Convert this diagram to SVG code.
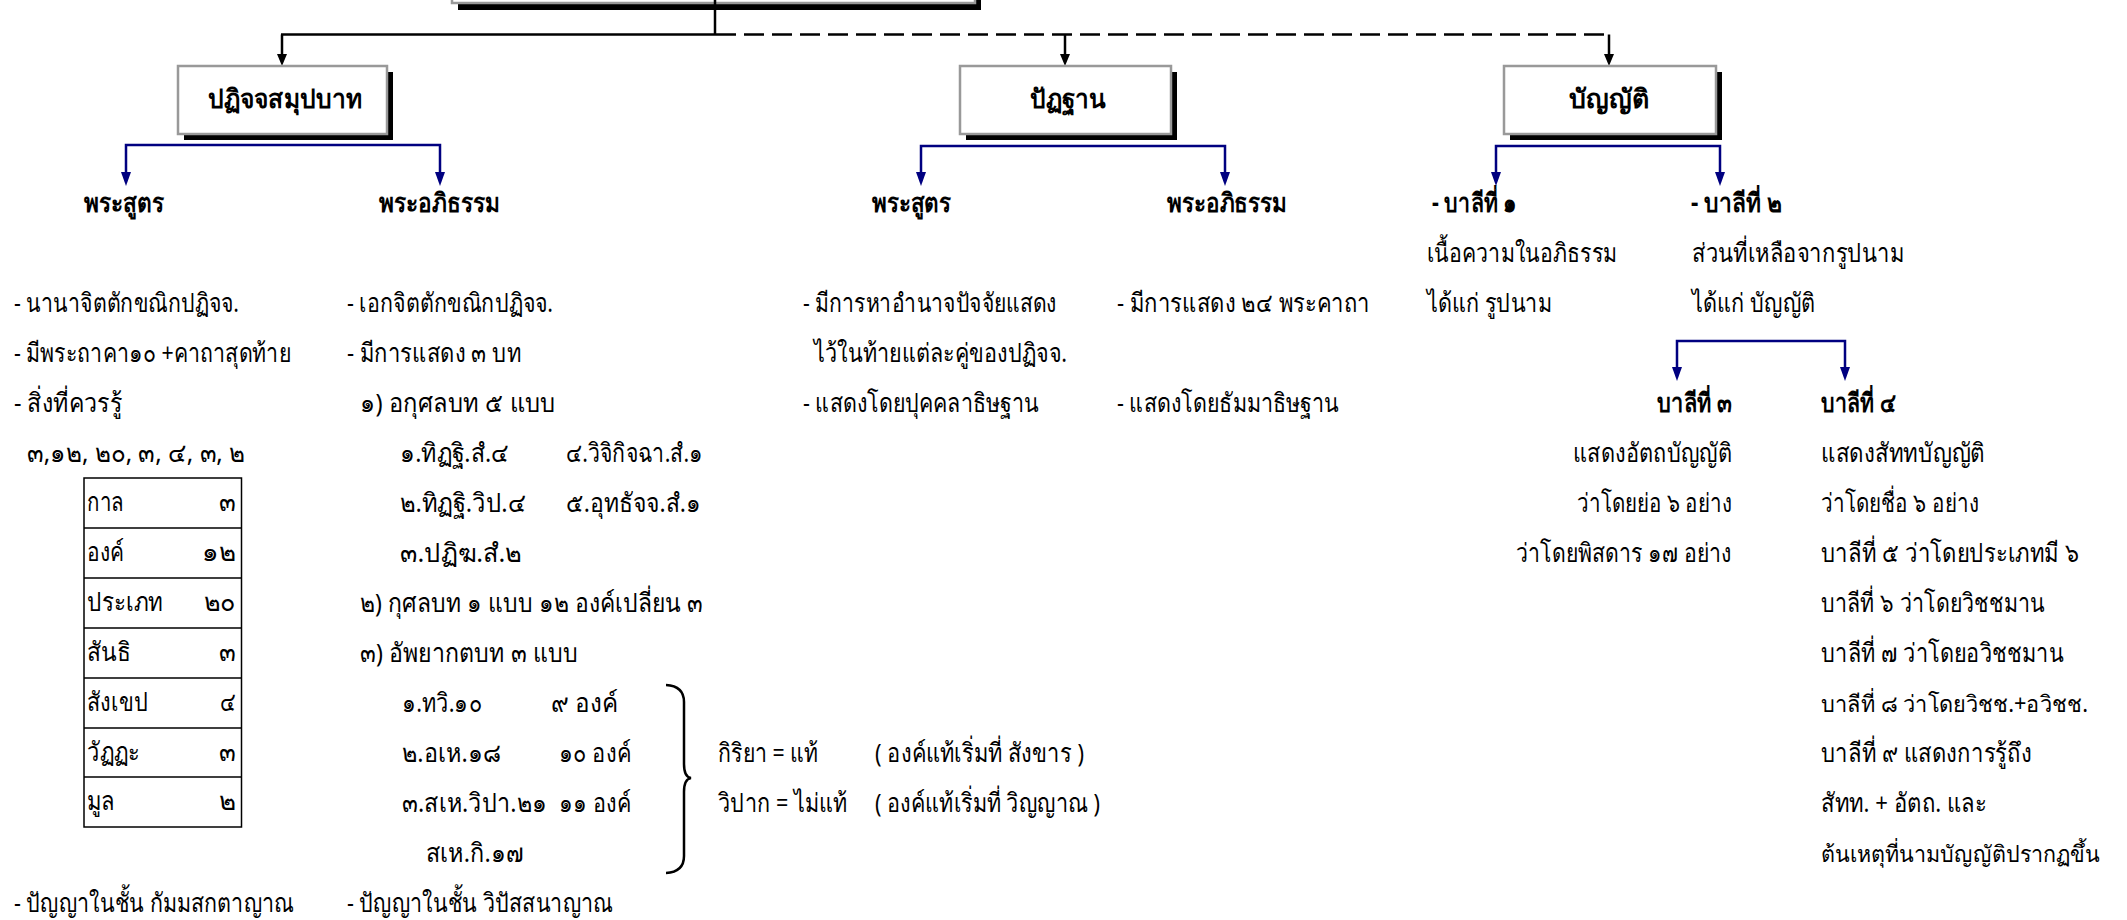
<svg xmlns="http://www.w3.org/2000/svg" width="2127" height="920" viewBox="0 0 2127 920">
<style>
.t{font-family:"Noto Sans","Liberation Sans",sans-serif;font-size:26px;fill:#000}
.s{font-size:23px}
.b{font-weight:bold}
.box{fill:#fff;stroke:#999;stroke-width:2.5}
.sh{fill:#000}
.k{fill:none;stroke:#000;stroke-width:2.5}
.bl{fill:none;stroke:#000080;stroke-width:2.5}
.ah{fill:#000}
.ab{fill:#000080}
.grid{fill:none;stroke:#000;stroke-width:1.5}
</style>
<rect width="2127" height="920" fill="#fff"/>

<g id="node-top">
<rect class="sh" x="458" y="-53" width="523" height="63"/>
<rect class="box" x="452" y="-60" width="523" height="63"/>
</g>

<g id="connectors">
<line class="k" x1="715" y1="0" x2="715" y2="35" stroke-width="3"/>
<line class="k" x1="281" y1="34.5" x2="716" y2="34.5"/>
<line class="k" x1="716" y1="34.5" x2="1609" y2="34.5" stroke-dasharray="20 8"/>
<line class="k" x1="282" y1="34.5" x2="282" y2="56" stroke-width="2"/>
<path class="ah" d="M277,54 H287 L282,66 Z"/>
<line class="k" x1="1065" y1="34.5" x2="1065" y2="56" stroke-width="2"/>
<path class="ah" d="M1060,54 H1070 L1065,66 Z"/>
<line class="k" x1="1609" y1="34.5" x2="1609" y2="56" stroke-width="2"/>
<path class="ah" d="M1604,54 H1614 L1609,66 Z"/>
<path class="bl" d="M126,176 V145 H440 V176"/>
<path class="ab" d="M121,172 H131 L126,186 Z"/>
<path class="ab" d="M435,172 H445 L440,186 Z"/>
<path class="bl" d="M921,176 V146 H1225 V176"/>
<path class="ab" d="M916,172 H926 L921,186 Z"/>
<path class="ab" d="M1220,172 H1230 L1225,186 Z"/>
<path class="bl" d="M1496,176 V146 H1720 V176"/>
<path class="ab" d="M1491,172 H1501 L1496,186 Z"/>
<path class="ab" d="M1715,172 H1725 L1720,186 Z"/>
<path class="bl" d="M1677,371 V341 H1845 V371"/>
<path class="ab" d="M1672,367 H1682 L1677,381 Z"/>
<path class="ab" d="M1840,367 H1850 L1845,381 Z"/>
<path class="k" d="M666,685 Q684,686 684,702 L684,764 Q684,777 691,778 Q684,779 684,792 L684,856 Q684,872 666,873"/>
</g>

<g id="node-patic">
<rect class="sh" x="184" y="72" width="209" height="68"/>
<rect class="box" x="178" y="66" width="209" height="68"/>
<text class="t b" x="285" y="108" text-anchor="middle" textLength="154" lengthAdjust="spacingAndGlyphs">ปฏิจจสมุปบาท</text>
</g>
<g id="node-patthana">
<rect class="sh" x="966" y="72" width="211" height="68"/>
<rect class="box" x="960" y="66" width="211" height="68"/>
<text class="t b" x="1068" y="108" text-anchor="middle" textLength="76" lengthAdjust="spacingAndGlyphs">ปัฏฐาน</text>
</g>
<g id="node-pannatti">
<rect class="sh" x="1510" y="72" width="212" height="68"/>
<rect class="box" x="1504" y="66" width="212" height="68"/>
<text class="t b" x="1609" y="108" text-anchor="middle" textLength="80" lengthAdjust="spacingAndGlyphs">บัญญัติ</text>
</g>

<g id="node-sutta1">
<text class="t b" x="84" y="212" textLength="80" lengthAdjust="spacingAndGlyphs">พระสูตร</text>
<text class="t" x="14" y="312" textLength="225" lengthAdjust="spacingAndGlyphs">- นานาจิตตักขณิกปฏิจจ.</text>
<text class="t" x="14" y="362" textLength="277" lengthAdjust="spacingAndGlyphs">- มีพระถาคา๑๐ +คาถาสุดท้าย</text>
<text class="t" x="14" y="412" textLength="108" lengthAdjust="spacingAndGlyphs">- สิ่งที่ควรรู้</text>
<text class="t" x="27" y="462" textLength="218" lengthAdjust="spacingAndGlyphs">๓,๑๒, ๒๐, ๓, ๔, ๓, ๒</text>
<text class="t" x="14" y="912" textLength="280" lengthAdjust="spacingAndGlyphs">- ปัญญาในชั้น กัมมสกตาญาณ</text>
</g>

<g id="node-table">
<rect class="grid" x="84" y="478" width="157.5" height="349"/>
<path class="grid" d="M84,528 H241.5 M84,578 H241.5 M84,628 H241.5 M84,678 H241.5 M84,728 H241.5 M84,777 H241.5"/>
<text class="t" x="87" y="511" textLength="37" lengthAdjust="spacingAndGlyphs">กาล</text>
<text class="t" x="87" y="561" textLength="37" lengthAdjust="spacingAndGlyphs">องค์</text>
<text class="t" x="87" y="611" textLength="76" lengthAdjust="spacingAndGlyphs">ประเภท</text>
<text class="t" x="87" y="661" textLength="44" lengthAdjust="spacingAndGlyphs">สันธิ</text>
<text class="t" x="87" y="711" textLength="61" lengthAdjust="spacingAndGlyphs">สังเขป</text>
<text class="t" x="87" y="761" textLength="53" lengthAdjust="spacingAndGlyphs">วัฏฏะ</text>
<text class="t" x="87" y="810" textLength="28" lengthAdjust="spacingAndGlyphs">มูล</text>
<text class="t" x="219" y="511" textLength="17" lengthAdjust="spacingAndGlyphs">๓</text>
<text class="t" x="202" y="561" textLength="34" lengthAdjust="spacingAndGlyphs">๑๒</text>
<text class="t" x="204" y="611" textLength="32" lengthAdjust="spacingAndGlyphs">๒๐</text>
<text class="t" x="219" y="661" textLength="17" lengthAdjust="spacingAndGlyphs">๓</text>
<text class="t" x="220" y="711" textLength="16" lengthAdjust="spacingAndGlyphs">๔</text>
<text class="t" x="219" y="761" textLength="17" lengthAdjust="spacingAndGlyphs">๓</text>
<text class="t" x="219" y="810" textLength="17" lengthAdjust="spacingAndGlyphs">๒</text>
</g>

<g id="node-abhi1">
<text class="t b" x="379" y="212" textLength="121" lengthAdjust="spacingAndGlyphs">พระอภิธรรม</text>
<text class="t" x="347" y="312" textLength="206" lengthAdjust="spacingAndGlyphs">- เอกจิตตักขณิกปฏิจจ.</text>
<text class="t" x="347" y="362" textLength="174" lengthAdjust="spacingAndGlyphs">- มีการแสดง ๓ บท</text>
<text class="t" x="360" y="412" textLength="196" lengthAdjust="spacingAndGlyphs">๑) อกุศลบท ๕ แบบ</text>
<text class="t" x="400" y="462" textLength="109" lengthAdjust="spacingAndGlyphs">๑.ทิฏฐิ.สํ.๔</text>
<text class="t" x="566" y="462" textLength="137" lengthAdjust="spacingAndGlyphs">๔.วิจิกิจฉา.สํ.๑</text>
<text class="t" x="400" y="512" textLength="126" lengthAdjust="spacingAndGlyphs">๒.ทิฏฐิ.วิป.๔</text>
<text class="t" x="566" y="512" textLength="135" lengthAdjust="spacingAndGlyphs">๕.อุทธัจจ.สํ.๑</text>
<text class="t" x="400" y="562" textLength="122" lengthAdjust="spacingAndGlyphs">๓.ปฏิฆ.สํ.๒</text>
<text class="t" x="360" y="612" textLength="343" lengthAdjust="spacingAndGlyphs">๒) กุศลบท ๑ แบบ ๑๒ องค์เปลี่ยน ๓</text>
<text class="t" x="360" y="662" textLength="218" lengthAdjust="spacingAndGlyphs">๓) อัพยากตบท  ๓ แบบ</text>
<text class="t" x="402" y="712" textLength="80" lengthAdjust="spacingAndGlyphs">๑.ทวิ.๑๐</text>
<text class="t" x="551" y="712" textLength="67" lengthAdjust="spacingAndGlyphs">๙ องค์</text>
<text class="t" x="402" y="762" textLength="99" lengthAdjust="spacingAndGlyphs">๒.อเห.๑๘</text>
<text class="t" x="559" y="762" textLength="72" lengthAdjust="spacingAndGlyphs">๑๐ องค์</text>
<text class="t" x="402" y="812" textLength="145" lengthAdjust="spacingAndGlyphs">๓.สเห.วิปา.๒๑</text>
<text class="t" x="559" y="812" textLength="72" lengthAdjust="spacingAndGlyphs">๑๑ องค์</text>
<text class="t" x="426" y="862" textLength="98" lengthAdjust="spacingAndGlyphs">สเห.กิ.๑๗</text>
<text class="t" x="718" y="762" textLength="100" lengthAdjust="spacingAndGlyphs">กิริยา = แท้</text>
<text class="t" x="875" y="762" textLength="209" lengthAdjust="spacingAndGlyphs">( องค์แท้เริ่มที่ สังขาร )</text>
<text class="t" x="718" y="812" textLength="129" lengthAdjust="spacingAndGlyphs">วิปาก = ไม่แท้</text>
<text class="t" x="875" y="812" textLength="225" lengthAdjust="spacingAndGlyphs">( องค์แท้เริ่มที่ วิญญาณ )</text>
<text class="t" x="347" y="912" textLength="266" lengthAdjust="spacingAndGlyphs">- ปัญญาในชั้น วิปัสสนาญาณ</text>
</g>

<g id="node-sutta2">
<text class="t b" x="872" y="212" textLength="79" lengthAdjust="spacingAndGlyphs">พระสูตร</text>
<text class="t" x="803" y="312" textLength="254" lengthAdjust="spacingAndGlyphs">- มีการหาอำนาจปัจจัยแสดง</text>
<text class="t" x="814" y="362" textLength="253" lengthAdjust="spacingAndGlyphs">ไว้ในท้ายแต่ละคู่ของปฏิจจ.</text>
<text class="t" x="803" y="412" textLength="236" lengthAdjust="spacingAndGlyphs">- แสดงโดยปุคคลาธิษฐาน</text>
</g>

<g id="node-abhi2">
<text class="t b" x="1167" y="212" textLength="120" lengthAdjust="spacingAndGlyphs">พระอภิธรรม</text>
<text class="t" x="1117" y="312" textLength="253" lengthAdjust="spacingAndGlyphs">- มีการแสดง ๒๔ พระคาถา</text>
<text class="t" x="1117" y="412" textLength="222" lengthAdjust="spacingAndGlyphs">- แสดงโดยธัมมาธิษฐาน</text>
</g>

<g id="node-pali1">
<text class="t b" x="1432" y="212" textLength="85" lengthAdjust="spacingAndGlyphs">- บาลีที่ ๑</text>
<text class="t" x="1427" y="262" textLength="190" lengthAdjust="spacingAndGlyphs">เนื้อความในอภิธรรม</text>
<text class="t" x="1427" y="312" textLength="125" lengthAdjust="spacingAndGlyphs">ได้แก่ รูปนาม</text>
</g>

<g id="node-pali2">
<text class="t b" x="1691" y="212" textLength="91" lengthAdjust="spacingAndGlyphs">- บาลีที่ ๒</text>
<text class="t" x="1692" y="262" textLength="212" lengthAdjust="spacingAndGlyphs">ส่วนที่เหลือจากรูปนาม</text>
<text class="t" x="1692" y="312" textLength="123" lengthAdjust="spacingAndGlyphs">ได้แก่ บัญญัติ</text>
</g>

<g id="node-pali3">
<text class="t b" x="1657" y="412" textLength="75" lengthAdjust="spacingAndGlyphs">บาลีที่ ๓</text>
<text class="t" x="1573" y="462" textLength="159" lengthAdjust="spacingAndGlyphs">แสดงอัตถบัญญัติ</text>
<text class="t" x="1577" y="512" textLength="155" lengthAdjust="spacingAndGlyphs">ว่าโดยย่อ ๖ อย่าง</text>
<text class="t" x="1516" y="562" textLength="216" lengthAdjust="spacingAndGlyphs">ว่าโดยพิสดาร ๑๗ อย่าง</text>
</g>

<g id="node-pali4">
<text class="t b" x="1821" y="412" textLength="75" lengthAdjust="spacingAndGlyphs">บาลีที่ ๔</text>
<text class="t" x="1821" y="462" textLength="164" lengthAdjust="spacingAndGlyphs">แสดงสัททบัญญัติ</text>
<text class="t" x="1821" y="512" textLength="158" lengthAdjust="spacingAndGlyphs">ว่าโดยชื่อ ๖ อย่าง</text>
<text class="t" x="1821" y="562" textLength="258" lengthAdjust="spacingAndGlyphs">บาลีที่ ๕  ว่าโดยประเภทมี ๖</text>
<text class="t" x="1821" y="612" textLength="224" lengthAdjust="spacingAndGlyphs">บาลีที่ ๖  ว่าโดยวิชชมาน</text>
<text class="t" x="1821" y="662" textLength="243" lengthAdjust="spacingAndGlyphs">บาลีที่ ๗  ว่าโดยอวิชชมาน</text>
<text class="t s" x="1821" y="712" textLength="267" lengthAdjust="spacingAndGlyphs">บาลีที่ ๘  ว่าโดยวิชช.+อวิชช.</text>
<text class="t" x="1821" y="762" textLength="211" lengthAdjust="spacingAndGlyphs">บาลีที่ ๙  แสดงการรู้ถึง</text>
<text class="t" x="1821" y="812" textLength="166" lengthAdjust="spacingAndGlyphs">สัทท. + อัตถ. และ</text>
<text class="t s" x="1821" y="862" textLength="279" lengthAdjust="spacingAndGlyphs">ต้นเหตุที่นามบัญญัติปรากฏขึ้น</text>
</g>
</svg>
